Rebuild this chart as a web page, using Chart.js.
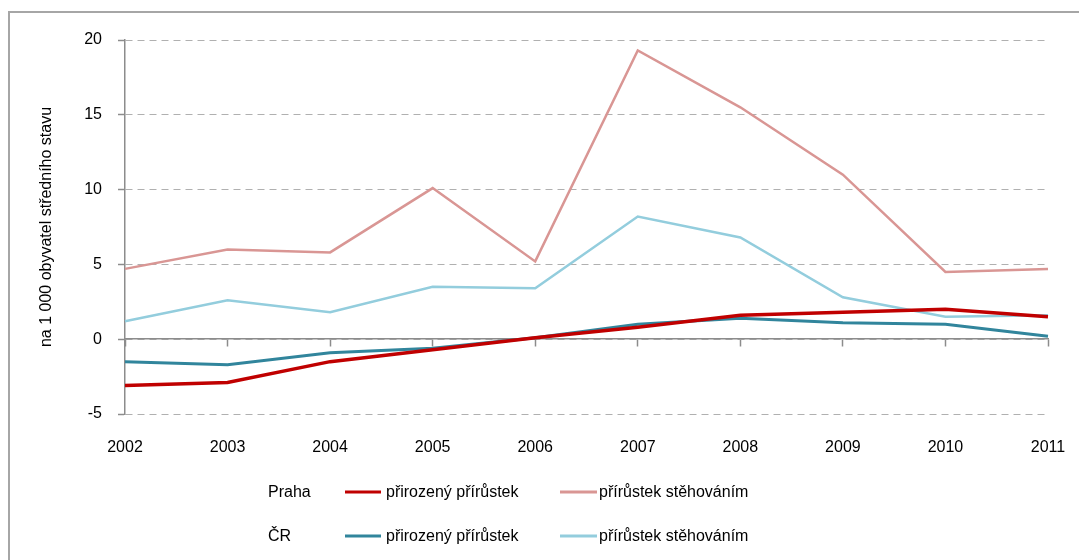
<!DOCTYPE html>
<html>
<head>
<meta charset="utf-8">
<script src="https://cdn.jsdelivr.net/npm/chart.js@4/dist/chart.umd.min.js"></script>
<style>
    body { margin: 0; background: #fff; overflow: hidden; }
    #frame { position: absolute; left: 8px; top: 11px; width: 1200px; height: 700px;
             border-left: 2px solid #a6a6a6; border-top: 2px solid #a6a6a6; }
    #wrap { position: absolute; left: 0; top: 0; width: 1079px; height: 560px; }
    .legend { position: absolute; font-family: "Liberation Sans", Arial, sans-serif; font-size: 16px; color: #000; }
    .legend .lbl { position: absolute; white-space: nowrap; transform: translateY(-50%); }
    .legend .ln { position: absolute; height: 3px; transform: translateY(-50%); }
</style>
</head>
<body>
<div id="frame"></div>
<div id="wrap"><canvas id="myChart" width="1079" height="560"></canvas></div>
<div class="legend" id="legend"></div>
<script>

var years = ["2002", "2003", "2004", "2005", "2006", "2007", "2008", "2009", "2010", "2011"];

// Praha
var prahaNatural =   [-3.1, -2.9, -1.5, -0.7, 0.1, 0.8, 1.6, 1.8, 2.0, 1.5];
var prahaMigration = [4.7, 6.0, 5.8, 10.1, 5.2, 19.3, 15.5, 11.0, 4.5, 4.7];

// ČR
var crNatural =      [-1.5, -1.7, -0.9, -0.6, 0.1, 1.0, 1.4, 1.1, 1.0, 0.2];
var crMigration =    [1.2, 2.6, 1.8, 3.5, 3.4, 8.2, 6.8, 2.8, 1.5, 1.6];

var yTicks = [-5, 0, 5, 10, 15, 20];

var colors = {
    prahaNatural: "#c00000",
    prahaMigration: "#d99694",
    crNatural: "#31859c",
    crMigration: "#93cddd"
};

var fontFamily = '"Liberation Sans", Arial, sans-serif';

function line(label, data, color, width) {
    return {
        label: label,
        data: data,
        borderColor: color,
        borderWidth: width,
        fill: false,
        tension: 0,
        pointRadius: 0,
        xAxisID: 'x',
        yAxisID: 'y'
    };
}

// custom legend: rows Praha / ČR
function buildLegend() {
    var el = document.getElementById('legend');
    var rows = [
        { name: "Praha", y: 492, a: colors.prahaNatural, b: colors.prahaMigration },
        { name: "ČR", y: 536, a: colors.crNatural, b: colors.crMigration }
    ];
    var html = "";
    rows.forEach(r => {
        html += '<div class="lbl" style="left:268px;top:' + r.y + 'px">' + r.name + '</div>';
        html += '<div class="ln" style="left:345px;width:36px;top:' + r.y + 'px;background:' + r.a + '"></div>';
        html += '<div class="lbl" style="left:386px;top:' + r.y + 'px">přirozený přírůstek</div>';
        html += '<div class="ln" style="left:560px;width:37px;top:' + r.y + 'px;background:' + r.b + '"></div>';
        html += '<div class="lbl" style="left:599px;top:' + r.y + 'px">přírůstek stěhováním</div>';
    });
    el.innerHTML = html;
}
buildLegend();

const el = document.getElementById('myChart');

const data = {
    labels: years,
    datasets: [
        line("Praha přirozený přírůstek", prahaNatural, colors.prahaNatural, 3.5),
        line("ČR přirozený přírůstek", crNatural, colors.crNatural, 3),
        line("Praha přírůstek stěhováním", prahaMigration, colors.prahaMigration, 2.5),
        line("ČR přírůstek stěhováním", crMigration, colors.crMigration, 2.5)
    ]
};

const config = {
    type: 'line',
    data: data,
    options: {
        responsive: false,
        animation: false,
        layout: { padding: { left: 10, top: 40, right: 31, bottom: 96 } },
        plugins: {
            legend: { display: false },
            tooltip: { enabled: false }
        },
        scales: {
            // zero axis with tick marks
            x: {
                type: 'category',
                position: { y: 0 },
                offset: false,
                ticks: { display: false },
                grid: { drawOnChartArea: false, drawTicks: true, tickLength: 7, color: '#8c8c8c', tickWidth: 1.5 },
                border: { display: true, color: '#8c8c8c', width: 1.5 }
            },
            // year labels at the bottom (tickLength used as a spacer, grid hidden)
            x2: {
                type: 'category',
                position: 'bottom',
                offset: false,
                grid: { display: false, drawTicks: true, tickLength: 21 },
                border: { display: false },
                ticks: { padding: 3, color: '#000', font: { family: fontFamily, size: 16 }, maxRotation: 0, autoSkip: false },
                afterFit: function (s) { s.height = 50; }
            },
            y: {
                min: -5,
                max: 20,
                afterBuildTicks: function (s) { s.ticks = yTicks.map(v => ({ value: v })); },
                ticks: { padding: 16, color: '#000', font: { family: fontFamily, size: 16 } },
                grid: { color: '#b0b0b0', lineWidth: 1, drawTicks: true, tickLength: 7, tickColor: '#8c8c8c', tickWidth: 1.5, tickBorderDash: [] },
                border: { display: true, color: '#8c8c8c', width: 1.5, dash: [7, 5] },
                title: {
                    display: true,
                    text: "na 1 000 obyvatel středního stavu",
                    color: '#000',
                    font: { family: fontFamily, size: 16 },
                    padding: { top: 27, bottom: 0 }
                },
                afterFit: function (s) { s.width = 115; }
            }
        }
    }
};

new Chart(
    el,
    config
);
</script>
</body>
</html>
